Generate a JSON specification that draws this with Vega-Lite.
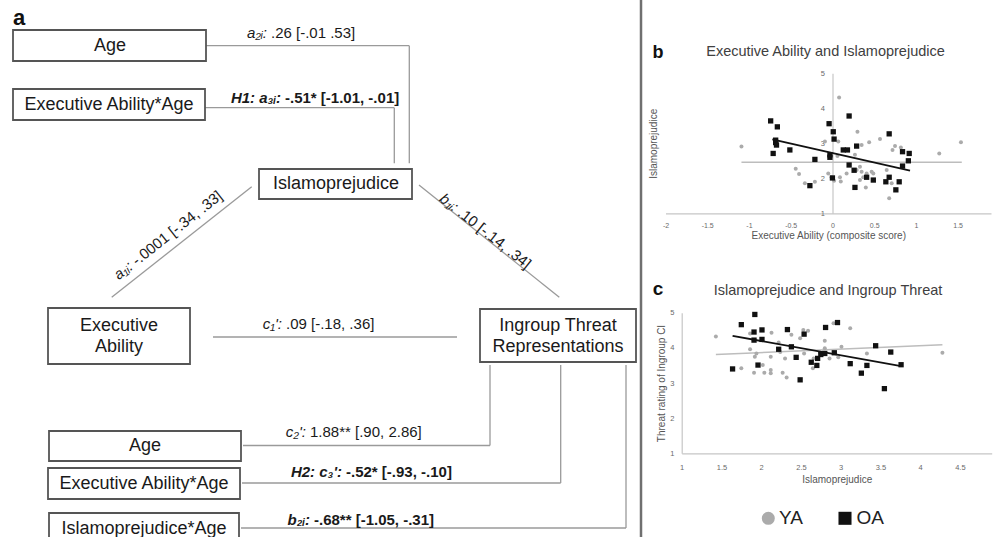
{
  "$schema": "https://vega.github.io/schema/vega-lite/v6.json",
  "width": 997,
  "height": 537,
  "padding": 0,
  "autosize": {"type": "none"},
  "config": {"font": "Liberation Sans", "view": {"stroke": null}},
  "datasets": {
    "boxes": [
      {"x": 13, "x2": 206, "y": 30, "y2": 61},
      {"x": 13, "x2": 205, "y": 89, "y2": 120},
      {"x": 259, "x2": 412, "y": 169, "y2": 199},
      {"x": 48, "x2": 190, "y": 308, "y2": 364},
      {"x": 480, "x2": 636, "y": 309, "y2": 362},
      {"x": 49, "x2": 241, "y": 431, "y2": 461},
      {"x": 48, "x2": 240, "y": 468, "y2": 499},
      {"x": 49, "x2": 239, "y": 513, "y2": 548}
    ],
    "boxText": [
      {"x": 110, "y": 46, "t": "Age"},
      {"x": 109, "y": 105, "t": "Executive Ability*Age"},
      {"x": 336, "y": 184, "t": "Islamoprejudice"},
      {"x": 119, "y": 326, "t": "Executive"},
      {"x": 119, "y": 347, "t": "Ability"},
      {"x": 558, "y": 326, "t": "Ingroup Threat"},
      {"x": 558, "y": 347, "t": "Representations"},
      {"x": 145, "y": 446, "t": "Age"},
      {"x": 144, "y": 483.5, "t": "Executive Ability*Age"},
      {"x": 144, "y": 529, "t": "Islamoprejudice*Age"}
    ],
    "links": [
      {"x": 206, "y": 45.7, "x2": 409.3, "y2": 45.7},
      {"x": 409.3, "y": 45.7, "x2": 409.3, "y2": 163.3},
      {"x": 205, "y": 107.7, "x2": 394.3, "y2": 107.7},
      {"x": 394.3, "y": 107.7, "x2": 394.3, "y2": 163.3},
      {"x": 251.7, "y": 186.7, "x2": 111.7, "y2": 297.3},
      {"x": 419, "y": 185, "x2": 559.3, "y2": 297.3},
      {"x": 213, "y": 337, "x2": 457, "y2": 337},
      {"x": 490, "y": 365, "x2": 490, "y2": 445.5},
      {"x": 490, "y": 445.5, "x2": 243, "y2": 445.5},
      {"x": 560.7, "y": 365, "x2": 560.7, "y2": 483},
      {"x": 560.7, "y": 483, "x2": 242, "y2": 483},
      {"x": 626, "y": 365, "x2": 626, "y2": 528},
      {"x": 626, "y": 528, "x2": 241, "y2": 528}
    ],
    "divider": [{"x": 641, "y": 0, "x2": 641, "y2": 537}],
    "labels": [
      {"x": 267, "y": 33.3, "it": "a₂ᵢ:", "rest": ".26 [-.01 .53]", "b": false, "a": 0},
      {"x": 281, "y": 98.3, "it": "H1: a₃ᵢ:", "rest": "-.51* [-1.01, -.01]", "b": true, "a": 0},
      {"x": 130.7, "y": 264.6, "it": "a₁ᵢ:", "rest": "-.0001 [-.34, .33]", "b": false, "a": -38.3},
      {"x": 456.7, "y": 208.4, "it": "b₁ᵢ:", "rest": ".10 [-.14, .34]", "b": false, "a": 38.3},
      {"x": 282, "y": 324, "it": "c₁':", "rest": ".09 [-.18, .36]", "b": false, "a": 0},
      {"x": 306, "y": 432, "it": "c₂':", "rest": "1.88** [.90, 2.86]", "b": false, "a": 0},
      {"x": 342, "y": 471.7, "it": "H2: c₃':", "rest": "-.52* [-.93, -.10]", "b": true, "a": 0},
      {"x": 310, "y": 520, "it": "b₂ᵢ:", "rest": "-.68** [-1.05, -.31]", "b": true, "a": 0}
    ],
    "letters": [
      {"x": 19, "y": 25, "t": "a", "s": 22},
      {"x": 658, "y": 58.3, "t": "b", "s": 18},
      {"x": 658, "y": 295, "t": "c", "s": 19}
    ],
    "titles": [
      {"x": 825.5, "y": 51.7, "t": "Executive Ability and Islamoprejudice"},
      {"x": 828, "y": 290.7, "t": "Islamoprejudice and Ingroup Threat"}
    ],
    "key": [
      {"g": "YA", "x": 768.3, "y": 518.3, "tx": 779, "t": "YA"},
      {"g": "OA", "x": 845, "y": 518.3, "tx": 856.5, "t": "OA"}
    ],
    "bLines": [
      {"g": "YA", "x": -1.09, "y": 2.46, "x2": 1.55, "y2": 2.46},
      {"g": "OA", "x": -0.72, "y": 3.11, "x2": 0.93, "y2": 2.22}
    ],
    "bPts": [
      {"g": "YA", "x": -1.09, "y": 2.91}, {"g": "YA", "x": 0.08, "y": 4.31}, {"g": "YA", "x": 0.30, "y": 3.33},
      {"g": "YA", "x": -0.09, "y": 3.05}, {"g": "YA", "x": 0.07, "y": 3.05}, {"g": "YA", "x": 0.44, "y": 3.03},
      {"g": "YA", "x": 0.57, "y": 3.12}, {"g": "YA", "x": 0.75, "y": 2.92}, {"g": "YA", "x": 0.72, "y": 2.81},
      {"g": "YA", "x": 0.82, "y": 2.88}, {"g": "YA", "x": 1.28, "y": 2.71}, {"g": "YA", "x": 1.54, "y": 3.03},
      {"g": "YA", "x": 0.06, "y": 2.64}, {"g": "YA", "x": 0.27, "y": 2.67}, {"g": "YA", "x": -0.44, "y": 2.27},
      {"g": "YA", "x": -0.40, "y": 2.12}, {"g": "YA", "x": -0.33, "y": 1.86}, {"g": "YA", "x": -0.21, "y": 1.90},
      {"g": "YA", "x": -0.05, "y": 2.14}, {"g": "YA", "x": -0.01, "y": 2.03}, {"g": "YA", "x": 0.09, "y": 2.03},
      {"g": "YA", "x": 0.17, "y": 2.14}, {"g": "YA", "x": 0.33, "y": 2.33}, {"g": "YA", "x": 0.29, "y": 2.24},
      {"g": "YA", "x": 0.35, "y": 2.19}, {"g": "YA", "x": 0.41, "y": 2.14}, {"g": "YA", "x": 0.47, "y": 2.19},
      {"g": "YA", "x": 0.37, "y": 2.03}, {"g": "YA", "x": 0.33, "y": 1.95}, {"g": "YA", "x": 0.40, "y": 1.74},
      {"g": "YA", "x": 0.65, "y": 2.24}, {"g": "YA", "x": 0.71, "y": 1.86}, {"g": "YA", "x": 0.68, "y": 1.43},
      {"g": "YA", "x": 0.49, "y": 2.14}, {"g": "YA", "x": 0.35, "y": 2.95}, {"g": "YA", "x": 0.10, "y": 1.91},
      {"g": "YA", "x": 0.02, "y": 1.93},
      {"g": "OA", "x": -0.74, "y": 3.64}, {"g": "OA", "x": -0.66, "y": 3.47}, {"g": "OA", "x": -0.68, "y": 3.09},
      {"g": "OA", "x": -0.68, "y": 3.02}, {"g": "OA", "x": -0.67, "y": 2.95}, {"g": "OA", "x": -0.71, "y": 2.71},
      {"g": "OA", "x": -0.51, "y": 2.81}, {"g": "OA", "x": -0.21, "y": 2.54}, {"g": "OA", "x": -0.27, "y": 1.79},
      {"g": "OA", "x": -0.04, "y": 3.56}, {"g": "OA", "x": 0.01, "y": 3.33}, {"g": "OA", "x": 0.02, "y": 3.12},
      {"g": "OA", "x": -0.03, "y": 2.67}, {"g": "OA", "x": -0.03, "y": 2.60}, {"g": "OA", "x": 0.00, "y": 2.01},
      {"g": "OA", "x": 0.20, "y": 3.78}, {"g": "OA", "x": 0.13, "y": 2.81}, {"g": "OA", "x": 0.18, "y": 2.81},
      {"g": "OA", "x": 0.29, "y": 2.92}, {"g": "OA", "x": 0.20, "y": 2.38}, {"g": "OA", "x": 0.26, "y": 2.23},
      {"g": "OA", "x": 0.27, "y": 1.74}, {"g": "OA", "x": 0.41, "y": 2.03}, {"g": "OA", "x": 0.49, "y": 1.95},
      {"g": "OA", "x": 0.68, "y": 3.27}, {"g": "OA", "x": 0.84, "y": 2.76}, {"g": "OA", "x": 0.92, "y": 2.71},
      {"g": "OA", "x": 0.91, "y": 2.50}, {"g": "OA", "x": 0.84, "y": 2.35}, {"g": "OA", "x": 0.64, "y": 1.90},
      {"g": "OA", "x": 0.68, "y": 2.03}, {"g": "OA", "x": 0.80, "y": 1.90}, {"g": "OA", "x": 0.76, "y": 1.67}
    ],
    "cLines": [
      {"g": "YA", "x": 1.43, "y": 3.81, "x2": 4.28, "y2": 4.09},
      {"g": "OA", "x": 1.64, "y": 4.34, "x2": 3.76, "y2": 3.48}
    ],
    "cPts": [
      {"g": "YA", "x": 1.43, "y": 4.32}, {"g": "YA", "x": 1.75, "y": 3.42}, {"g": "YA", "x": 1.86, "y": 3.96},
      {"g": "YA", "x": 1.86, "y": 4.41}, {"g": "YA", "x": 1.92, "y": 3.75}, {"g": "YA", "x": 1.94, "y": 3.84},
      {"g": "YA", "x": 1.91, "y": 3.29}, {"g": "YA", "x": 2.04, "y": 3.29}, {"g": "YA", "x": 2.02, "y": 3.51},
      {"g": "YA", "x": 2.13, "y": 4.43}, {"g": "YA", "x": 2.12, "y": 3.75}, {"g": "YA", "x": 2.12, "y": 3.37},
      {"g": "YA", "x": 2.12, "y": 3.28}, {"g": "YA", "x": 2.22, "y": 4.15}, {"g": "YA", "x": 2.24, "y": 3.88},
      {"g": "YA", "x": 2.30, "y": 3.70}, {"g": "YA", "x": 2.27, "y": 3.29}, {"g": "YA", "x": 2.32, "y": 3.16},
      {"g": "YA", "x": 2.38, "y": 4.37}, {"g": "YA", "x": 2.49, "y": 4.27}, {"g": "YA", "x": 2.53, "y": 4.51},
      {"g": "YA", "x": 2.59, "y": 4.49}, {"g": "YA", "x": 2.54, "y": 3.84}, {"g": "YA", "x": 2.65, "y": 3.42},
      {"g": "YA", "x": 2.80, "y": 4.20}, {"g": "YA", "x": 2.80, "y": 3.99}, {"g": "YA", "x": 2.86, "y": 3.70},
      {"g": "YA", "x": 2.91, "y": 4.70}, {"g": "YA", "x": 2.97, "y": 3.73}, {"g": "YA", "x": 3.01, "y": 4.03},
      {"g": "YA", "x": 3.12, "y": 4.56}, {"g": "YA", "x": 3.33, "y": 3.84}, {"g": "YA", "x": 4.28, "y": 3.86},
      {"g": "YA", "x": 2.74, "y": 3.86}, {"g": "YA", "x": 2.66, "y": 3.70},
      {"g": "OA", "x": 1.64, "y": 3.40}, {"g": "OA", "x": 1.75, "y": 4.66}, {"g": "OA", "x": 1.92, "y": 4.95},
      {"g": "OA", "x": 1.91, "y": 4.45}, {"g": "OA", "x": 1.91, "y": 4.22}, {"g": "OA", "x": 2.01, "y": 4.51},
      {"g": "OA", "x": 2.01, "y": 4.24}, {"g": "OA", "x": 1.96, "y": 3.51}, {"g": "OA", "x": 2.33, "y": 4.52},
      {"g": "OA", "x": 2.22, "y": 3.96}, {"g": "OA", "x": 2.38, "y": 4.03}, {"g": "OA", "x": 2.44, "y": 3.73},
      {"g": "OA", "x": 2.54, "y": 4.39}, {"g": "OA", "x": 2.49, "y": 3.09}, {"g": "OA", "x": 2.63, "y": 3.59},
      {"g": "OA", "x": 2.70, "y": 3.50}, {"g": "OA", "x": 2.71, "y": 3.70}, {"g": "OA", "x": 2.75, "y": 3.81},
      {"g": "OA", "x": 2.80, "y": 3.84}, {"g": "OA", "x": 2.81, "y": 4.58}, {"g": "OA", "x": 2.92, "y": 3.86},
      {"g": "OA", "x": 2.96, "y": 4.72}, {"g": "OA", "x": 3.12, "y": 3.55}, {"g": "OA", "x": 3.26, "y": 3.28},
      {"g": "OA", "x": 3.33, "y": 3.50}, {"g": "OA", "x": 3.44, "y": 4.06}, {"g": "OA", "x": 3.55, "y": 2.84},
      {"g": "OA", "x": 3.63, "y": 3.88}, {"g": "OA", "x": 3.76, "y": 3.52}
    ]
  },
  "layer": [
    {
      "encoding": {
        "x": {"field": "x", "type": "quantitative", "scale": {"domain": [0, 997], "range": [0, 997], "nice": false, "zero": false}, "axis": null},
        "y": {"field": "y", "type": "quantitative", "scale": {"domain": [0, 537], "range": [0, 537], "nice": false, "zero": false}, "axis": null}
      },
      "layer": [
        {
          "data": {"name": "divider"},
          "mark": {"type": "rule", "color": "#707070", "strokeWidth": 2.5},
          "encoding": {"x2": {"field": "x2"}, "y2": {"field": "y2"}}
        },
        {
          "data": {"name": "links"},
          "mark": {"type": "rule", "color": "#9a9a9a", "strokeWidth": 1.3},
          "encoding": {"x2": {"field": "x2"}, "y2": {"field": "y2"}}
        },
        {
          "data": {"name": "boxes"},
          "mark": {"type": "rect", "fill": "white", "stroke": "#555555", "strokeWidth": 1.8},
          "encoding": {"x2": {"field": "x2"}, "y2": {"field": "y2"}}
        },
        {
          "data": {"name": "boxText"},
          "mark": {"type": "text", "fontSize": 18, "color": "#1a1a1a", "baseline": "middle"},
          "encoding": {"text": {"field": "t"}}
        },
        {
          "data": {"name": "labels"},
          "transform": [{"filter": "!datum.b"}],
          "mark": {"type": "text", "fontSize": 15, "fontStyle": "italic", "align": "right", "baseline": "middle", "color": "#1a1a1a"},
          "encoding": {"text": {"field": "it"}, "angle": {"field": "a", "type": "quantitative", "scale": null}}
        },
        {
          "data": {"name": "labels"},
          "transform": [{"filter": "!datum.b"}],
          "mark": {"type": "text", "fontSize": 15, "align": "left", "baseline": "middle", "dx": 4, "color": "#1a1a1a"},
          "encoding": {"text": {"field": "rest"}, "angle": {"field": "a", "type": "quantitative", "scale": null}}
        },
        {
          "data": {"name": "labels"},
          "transform": [{"filter": "datum.b"}],
          "mark": {"type": "text", "fontSize": 15, "fontStyle": "italic", "fontWeight": "bold", "align": "right", "baseline": "middle", "color": "#1a1a1a"},
          "encoding": {"text": {"field": "it"}, "angle": {"field": "a", "type": "quantitative", "scale": null}}
        },
        {
          "data": {"name": "labels"},
          "transform": [{"filter": "datum.b"}],
          "mark": {"type": "text", "fontSize": 15, "fontWeight": "bold", "align": "left", "baseline": "middle", "dx": 4, "color": "#1a1a1a"},
          "encoding": {"text": {"field": "rest"}, "angle": {"field": "a", "type": "quantitative", "scale": null}}
        },
        {
          "data": {"name": "letters"},
          "mark": {"type": "text", "fontWeight": "bold", "baseline": "alphabetic", "color": "#111111"},
          "encoding": {"text": {"field": "t"}, "size": {"field": "s", "type": "quantitative", "scale": null}}
        },
        {
          "data": {"name": "titles"},
          "mark": {"type": "text", "fontSize": 14.5, "baseline": "middle", "color": "#404040"},
          "encoding": {"text": {"field": "t"}}
        },
        {
          "data": {"name": "key"},
          "mark": {"type": "point", "filled": true, "opacity": 1, "size": 170},
          "encoding": {
            "color": {"field": "g", "type": "nominal", "scale": {"domain": ["YA", "OA"], "range": ["#ababab", "#111111"]}, "legend": null},
            "shape": {"field": "g", "type": "nominal", "scale": {"domain": ["YA", "OA"], "range": ["circle", "square"]}, "legend": null}
          }
        },
        {
          "data": {"name": "key"},
          "mark": {"type": "text", "fontSize": 19, "align": "left", "baseline": "middle", "color": "#222222"},
          "encoding": {"x": {"field": "tx", "type": "quantitative"}, "text": {"field": "t"}}
        }
      ]
    },
    {
      "encoding": {
        "x": {
          "field": "x", "type": "quantitative",
          "scale": {"domain": [-2, 1.9], "range": [665.5, 991], "nice": false, "zero": false},
          "axis": {
            "orient": "bottom", "offset": -323.7, "values": [-2, -1.5, -1, -0.5, 0, 0.5, 1, 1.5],
            "labelExpr": "toString(datum.value)", "grid": false, "ticks": false, "tickSize": 0,
            "domainColor": "#c6c6c6", "domainWidth": 1.2, "labelFontSize": 7, "labelColor": "#6a6a6a",
            "labelPadding": 8, "labelFlush": false, "labelOverlap": false,
            "title": "Executive Ability (composite score)", "titleFontSize": 10, "titleFontWeight": "normal",
            "titleColor": "#555555", "titleY": 22, "titleBaseline": "middle"
          }
        },
        "y": {
          "field": "y", "type": "quantitative",
          "scale": {"domain": [1, 5], "range": [213.3, 73.3], "nice": false, "zero": false},
          "axis": {
            "orient": "left", "offset": -832.5, "values": [1, 2, 3, 4, 5],
            "labelExpr": "toString(datum.value)", "grid": false, "ticks": false, "tickSize": 0,
            "domainColor": "#c6c6c6", "domainWidth": 1.2, "labelFontSize": 7.5, "labelColor": "#6a6a6a",
            "labelPadding": 8, "labelOverlap": false,
            "title": "Islamoprejudice", "titleFontSize": 10, "titleFontWeight": "normal",
            "titleColor": "#555555", "titleX": -179.5, "titleBaseline": "middle"
          }
        }
      },
      "layer": [
        {
          "data": {"name": "bLines"},
          "transform": [{"filter": "datum.g == 'YA'"}],
          "mark": {"type": "rule", "color": "#bdbdbd", "strokeWidth": 1.6},
          "encoding": {"x2": {"field": "x2"}, "y2": {"field": "y2"}}
        },
        {
          "data": {"name": "bPts"},
          "mark": {"type": "point", "filled": true, "opacity": 1},
          "encoding": {
            "color": {"field": "g", "type": "nominal", "scale": {"domain": ["YA", "OA"], "range": ["#ababab", "#111111"]}, "legend": null},
            "shape": {"field": "g", "type": "nominal", "scale": {"domain": ["YA", "OA"], "range": ["circle", "square"]}, "legend": null},
            "size": {"field": "g", "type": "nominal", "scale": {"domain": ["YA", "OA"], "range": [16, 28]}, "legend": null}
          }
        },
        {
          "data": {"name": "bLines"},
          "transform": [{"filter": "datum.g == 'OA'"}],
          "mark": {"type": "rule", "color": "#111111", "strokeWidth": 1.8},
          "encoding": {"x2": {"field": "x2"}, "y2": {"field": "y2"}}
        }
      ]
    },
    {
      "encoding": {
        "x": {
          "field": "x", "type": "quantitative",
          "scale": {"domain": [1, 4.9], "range": [681.7, 991.7], "nice": false, "zero": false},
          "axis": {
            "orient": "bottom", "offset": -83.7, "values": [1, 1.5, 2, 2.5, 3, 3.5, 4, 4.5],
            "labelExpr": "toString(datum.value)", "grid": false, "ticks": false, "tickSize": 0,
            "domainColor": "#c6c6c6", "domainWidth": 1.2, "labelFontSize": 7.5, "labelColor": "#6a6a6a",
            "labelPadding": 9.7, "labelFlush": false, "labelOverlap": false,
            "title": "Islamoprejudice", "titleFontSize": 10, "titleFontWeight": "normal",
            "titleColor": "#555555", "titleY": 26, "titleBaseline": "middle"
          }
        },
        "y": {
          "field": "y", "type": "quantitative",
          "scale": {"domain": [1, 5], "range": [453.3, 312.7], "nice": false, "zero": false},
          "axis": {
            "orient": "left", "offset": -681.7, "values": [1, 2, 3, 4, 5],
            "labelExpr": "toString(datum.value)", "grid": false, "ticks": false, "tickSize": 0,
            "domainColor": "#c6c6c6", "domainWidth": 1.2, "labelFontSize": 7.5, "labelColor": "#6a6a6a",
            "labelPadding": 7.7, "labelOverlap": false,
            "title": "Threat rating of Ingroup CI", "titleFontSize": 10, "titleFontWeight": "normal",
            "titleColor": "#555555", "titleX": -20, "titleBaseline": "middle"
          }
        }
      },
      "layer": [
        {
          "data": {"name": "cLines"},
          "transform": [{"filter": "datum.g == 'YA'"}],
          "mark": {"type": "rule", "color": "#bdbdbd", "strokeWidth": 1.6},
          "encoding": {"x2": {"field": "x2"}, "y2": {"field": "y2"}}
        },
        {
          "data": {"name": "cPts"},
          "mark": {"type": "point", "filled": true, "opacity": 1},
          "encoding": {
            "color": {"field": "g", "type": "nominal", "scale": {"domain": ["YA", "OA"], "range": ["#ababab", "#111111"]}, "legend": null},
            "shape": {"field": "g", "type": "nominal", "scale": {"domain": ["YA", "OA"], "range": ["circle", "square"]}, "legend": null},
            "size": {"field": "g", "type": "nominal", "scale": {"domain": ["YA", "OA"], "range": [16, 28]}, "legend": null}
          }
        },
        {
          "data": {"name": "cLines"},
          "transform": [{"filter": "datum.g == 'OA'"}],
          "mark": {"type": "rule", "color": "#111111", "strokeWidth": 1.8},
          "encoding": {"x2": {"field": "x2"}, "y2": {"field": "y2"}}
        }
      ]
    }
  ],
  "resolve": {"scale": {"x": "independent", "y": "independent"}}
}
